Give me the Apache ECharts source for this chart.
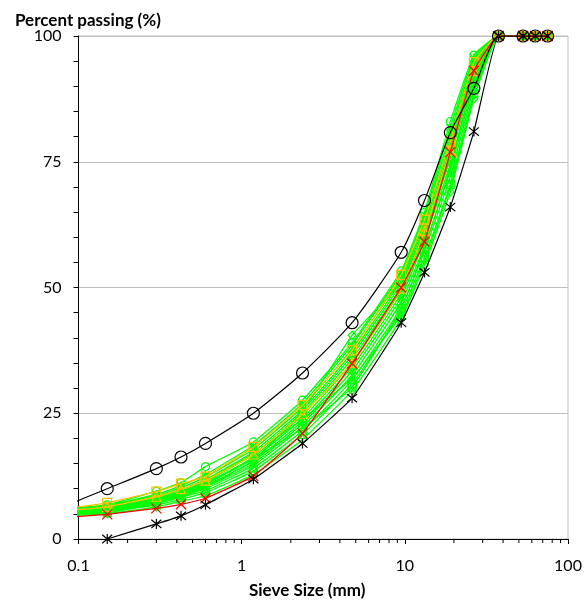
<!DOCTYPE html>
<html>
<head>
<meta charset="utf-8">
<script src="https://cdn.jsdelivr.net/npm/echarts@6/dist/echarts.min.js"></script>
<style>
  html, body { margin: 0; padding: 0; background: #fff; }
  #chart { width: 585px; height: 601px; }
</style>
</head>
<body>
<div id="chart"></div>
<script>
// Sieve apertures (mm) shared by every grading curve
const sieveSizes = [0.075, 0.15, 0.3, 0.425, 0.6, 1.18, 2.36, 4.75, 9.5, 13.2, 19, 26.5, 37.5, 53, 63, 75];

// Grading envelope limits
const envelopeFine   = [6.0, 10, 14, 16.3, 19, 25, 33, 43, 57, 67.3, 80.8, 89.6, 100, 100, 100, 100];
const envelopeCoarse = [null, 0, 3, 4.6, 6.8, 11.9, 19, 28, 43, 53, 66, 81, 100, 100, 100, 100];

// Target (design) grading
const targetGrading = [4.2, 4.9, 6.1, 6.9, 8.1, 12.5, 21.0, 34.9, 50.0, 59.1, 76.9, 93.1, 100, 100, 100, 100];

// Production samples
const sampleG01 = [4.6, 5.0, 6.4, 7.5, 8.6, 12.8, 19.8, 29.5, 43.8, 54.5, 69.0, 87.5, 100, 100, 100, 100];
const sampleG02 = [4.8, 5.3, 6.8, 7.9, 9.2, 13.5, 20.8, 30.8, 45.2, 56.0, 70.5, 88.6, 100, 100, 100, 100];
const sampleG03 = [5.0, 5.6, 7.1, 8.3, 9.6, 14.1, 21.5, 31.6, 46.0, 57.2, 72.0, 89.5, 100, 100, 100, 100];
const sampleG04 = [5.2, 5.8, 7.4, 8.6, 10.0, 14.6, 22.3, 32.5, 47.1, 58.3, 73.2, 90.4, 100, 100, 100, 100];
const sampleG05 = [4.9, 5.5, 7.0, 8.4, 10.3, 15.0, 22.9, 33.4, 48.0, 59.5, 74.5, 91.2, 100, 100, 100, 100];
const sampleG06 = [5.3, 6.0, 7.6, 8.9, 10.6, 15.4, 23.4, 34.2, 48.8, 60.2, 75.8, 92.0, 100, 100, 100, 100];
const sampleG07 = [5.5, 6.2, 7.9, 9.2, 11.0, 15.9, 24.0, 35.0, 49.5, 61.0, 76.9, 92.8, 100, 100, 100, 100];
const sampleG08 = [5.1, 5.7, 7.5, 9.0, 10.8, 16.3, 24.6, 35.8, 50.2, 61.8, 77.8, 93.4, 100, 100, 100, 100];
const sampleG09 = [5.6, 6.3, 8.1, 9.5, 11.4, 16.8, 25.1, 36.5, 50.8, 62.5, 78.7, 94.0, 100, 100, 100, 100];
const sampleG10 = [5.4, 6.1, 8.3, 9.8, 11.8, 17.3, 25.6, 37.1, 51.4, 63.1, 79.6, 94.6, 100, 100, 100, 100];
const sampleG11 = [5.8, 6.5, 8.6, 10.2, 12.3, 17.9, 26.2, 37.8, 52.0, 63.8, 80.6, 95.2, 100, 100, 100, 100];
const sampleG12 = [5.7, 6.6, 8.9, 10.6, 12.8, 18.6, 26.9, 38.6, 52.8, 64.5, 81.8, 95.7, 100, 100, 100, 100];
const sampleG13 = [6.0, 6.8, 9.5, 11.2, 14.4, 19.3, 27.6, 39.0, 53.3, 65.0, 83.0, 96.2, 100, 100, 100, 100];
const sampleG14 = [4.7, 5.2, 7.7, 9.3, 11.6, 17.0, 23.8, 32.0, 44.5, 55.2, 70.0, 88.0, 100, 100, 100, 100];
const sampleG15 = [5.0, 5.4, 7.3, 8.7, 10.4, 15.6, 25.4, 40.5, 51.0, 60.5, 76.0, 94.5, 100, 100, 100, 100];
const sampleG16 = [5.3, 5.9, 8.0, 9.4, 11.2, 16.0, 22.0, 30.2, 45.8, 57.8, 73.8, 91.5, 100, 100, 100, 100];
const sampleO01 = [5.8, 7.2, 9.4, 11.0, 12.4, 18.3, 26.6, 37.5, 52.5, 63.5, 79.0, 94.8, 100, 100, 100, 100];
const sampleO02 = [5.5, 6.4, 8.4, 9.9, 11.6, 16.8, 24.8, 35.0, 49.8, 61.2, 77.2, 93.0, 100, 100, 100, 100];

const greenSamples = [sampleG01, sampleG02, sampleG03, sampleG04, sampleG05, sampleG06, sampleG07, sampleG08,
                      sampleG09, sampleG10, sampleG11, sampleG12, sampleG13, sampleG14, sampleG15, sampleG16];
const orangeSamples = [sampleO01, sampleO02];

// Axis tick labels
const xTickLabels = { 0.1: '0.1', 1: '1', 10: '10', 100: '100' };
const xMinorTicks = [0.2, 0.3, 0.4, 0.5, 0.6, 0.7, 0.8, 0.9, 2, 3, 4, 5, 6, 7, 8, 9, 20, 30, 40, 50, 60, 70, 80, 90];

const FONT = 'Lato, "Open Sans", sans-serif';

const SYM_X = 'path://M0,0L10,10M10,0L0,10';
const SYM_STAR = 'path://M0,0L10,10M10,0L0,10M5,-1L5,11';
const SYM_PLUS = 'path://M5,0L5,10M0,5L10,5';
const markerCycle = ['diamond', 'rect', 'triangle', SYM_X, SYM_STAR, 'circle', SYM_PLUS];

function pairs(values) {
  const out = [];
  values.forEach((v, i) => { if (v !== null) out.push([sieveSizes[i], v]); });
  return out;
}

function curve(values, color, symbol, size, z, smooth, width) {
  return {
    type: 'line',
    data: pairs(values),
    smooth: smooth,
    symbol: symbol,
    symbolSize: size,
    z: z,
    lineStyle: { color: color, width: width },
    itemStyle: { color: 'transparent', borderColor: color, borderWidth: 1.2 },
    emphasis: { disabled: true },
    animation: false
  };
}

const series = [];
greenSamples.forEach((s, i) => {
  series.push(curve(s, '#00FF00', markerCycle[i % markerCycle.length], 8, 2, 0.12, 1.3));
});
orangeSamples.forEach((s, i) => {
  series.push(curve(s, '#FFC000', i === 0 ? 'rect' : 'triangle', 9, 3, 0.12, 1.3));
});
series.push(curve(targetGrading, '#FF0000', SYM_X, 10, 4, 0.12, 1.3));
series.push(curve(envelopeCoarse, '#000000', SYM_STAR, 10, 5, 0.1, 1.2));
series.push(curve(envelopeFine, '#000000', 'circle', 12, 5, 0.2, 1.2));

// Logarithmic minor ticks along the x axis
series.push({
  type: 'custom',
  silent: true,
  animation: false,
  clip: false,
  z: 10,
  data: xMinorTicks.map(v => [v, 0]),
  renderItem: function (params, api) {
    const p = api.coord([api.value(0), 0]);
    return {
      type: 'line',
      shape: { x1: p[0], y1: p[1], x2: p[0], y2: p[1] + 4 },
      style: { stroke: '#000', lineWidth: 1 }
    };
  }
});

const chart = echarts.init(document.getElementById('chart'), null, { renderer: 'canvas' });
chart.setOption({
  backgroundColor: '#fff',
  animation: false,
  title: [
    { text: 'Percent passing (%)', left: 10, top: 7,
      textStyle: { fontFamily: FONT, fontWeight: 'bold', fontSize: 17, color: '#000' } },
    { text: 'Sieve Size (mm)', left: 244, top: 577,
      textStyle: { fontFamily: FONT, fontWeight: 'bold', fontSize: 17, color: '#000' } }
  ],
  grid: { left: 78.5, right: 17, top: 36, bottom: 62, show: true, borderColor: '#BFBFBF', borderWidth: 1 },
  xAxis: {
    type: 'log',
    logBase: 10,
    min: 0.1,
    max: 100,
    axisLine: { lineStyle: { color: '#000', width: 1 } },
    axisTick: { show: true, length: 5, lineStyle: { color: '#000' } },
    splitLine: { show: false },
    axisLabel: {
      margin: 19,
      fontFamily: FONT, fontSize: 16, color: '#000',
      formatter: v => xTickLabels[+v.toPrecision(3)] || ''
    }
  },
  yAxis: {
    type: 'value',
    min: 0,
    max: 100,
    interval: 25,
    axisLine: { show: true, lineStyle: { color: '#000', width: 1 } },
    axisTick: { show: true, length: 5, lineStyle: { color: '#000' } },
    minorTick: { show: true, splitNumber: 5, length: 5, lineStyle: { color: '#000' } },
    splitLine: { show: true, lineStyle: { color: '#BFBFBF', width: 1 } },
    axisLabel: { margin: 17, fontFamily: FONT, fontSize: 16, color: '#000' }
  },
  series: series
});
</script>
</body>
</html>
